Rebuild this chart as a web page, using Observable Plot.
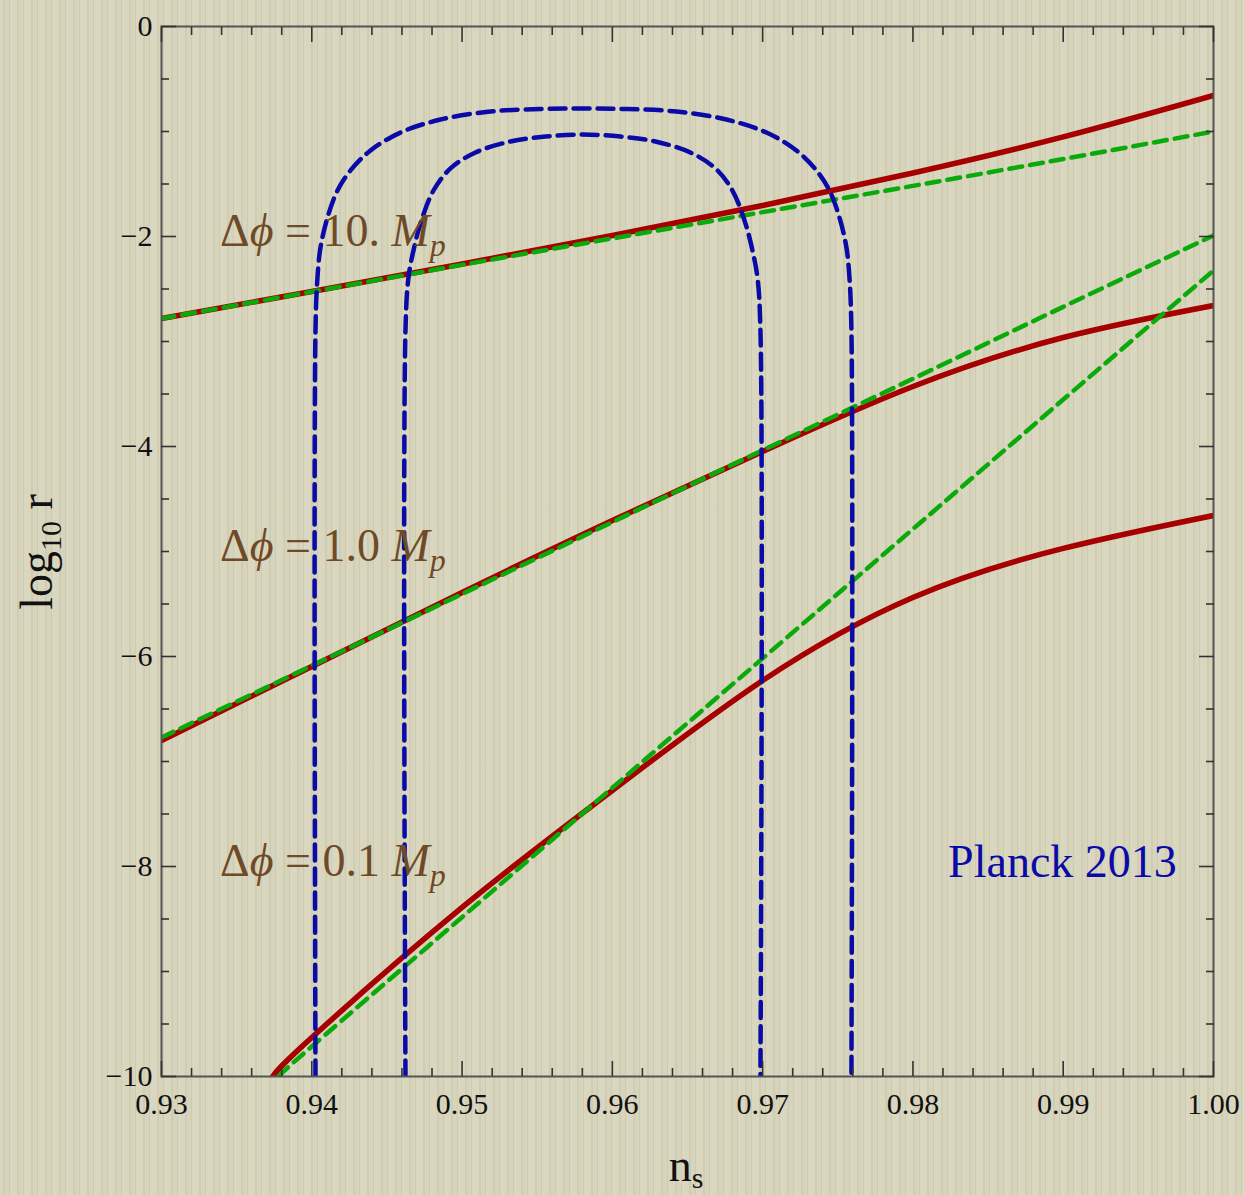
<!DOCTYPE html>
<html>
<head>
<meta charset="utf-8">
<script src="https://cdn.jsdelivr.net/npm/d3@7"></script>
<script src="https://cdn.jsdelivr.net/npm/@observablehq/plot@0.6"></script>
<style>
  html, body { margin: 0; padding: 0; overflow: hidden; }
  body {
    width: 1245px; height: 1195px;
    background-color: #d5d2b9;
    background-image: repeating-linear-gradient(90deg,
      rgba(255,255,240,0.10) 0px, rgba(255,255,240,0.10) 3px,
      rgba(120,115,80,0.06) 3px, rgba(120,115,80,0.06) 5px,
      rgba(255,255,240,0.05) 5px, rgba(255,255,240,0.05) 9px,
      rgba(120,115,80,0.08) 9px, rgba(120,115,80,0.08) 10px,
      rgba(255,255,240,0.12) 10px, rgba(255,255,240,0.12) 14px);
  }
  #chart svg { display: block; }
</style>
</head>
<body>
<div id="chart"></div>
<script>
// Spectral index grid shared by the model curves
const nsGrid = [0.93, 0.94, 0.95, 0.96, 0.97, 0.98, 0.99, 1.00];

// Δφ = 10 Mp : exact (red) and approximate (green) predictions, log10 r
const red10   = [-2.781, -2.524, -2.262, -1.990, -1.705, -1.395, -1.052, -0.657];
const green10 = [-2.781, -2.526, -2.270, -2.018, -1.768, -1.518, -1.262, -1.000];

// Δφ = 1.0 Mp
const red1   = [-6.800, -6.095, -5.390, -4.705, -4.048, -3.429, -2.962, -2.657];
const green1 = [-6.771, -6.088, -5.405, -4.720, -4.036, -3.355, -2.670, -1.990];

// Δφ = 0.1 Mp (enters the plot at the bottom edge)
const red01Ns   = [0.9374, 0.94, 0.95, 0.96, 0.97, 0.98, 0.99, 1.00];
const red01     = [-10, -9.629, -8.390, -7.276, -6.229, -5.438, -4.971, -4.657];
const green01Ns = [0.9378, 0.94, 0.95, 0.96, 0.97, 0.98, 0.99, 1.00];
const green01   = [-10, -9.714, -8.483, -7.250, -6.018, -4.786, -3.553, -2.324];

// Planck 2013 contours (outer and inner)
const outerNs  = [0.940246, 0.940246, 0.940379, 0.940579, 0.941045, 0.941710, 0.942575, 0.943906, 0.945902,
                  0.948563, 0.951890, 0.955216, 0.958077, 0.960938, 0.964265, 0.967592, 0.970253, 0.972249,
                  0.973580, 0.974445, 0.975110, 0.975576, 0.975775, 0.975908, 0.975908];
const outerLog = [-10, -2.895, -2.390, -2.105, -1.819, -1.562, -1.371, -1.181, -1.010,
                  -0.886, -0.810, -0.786, -0.781, -0.786, -0.810, -0.886, -1.010, -1.181,
                  -1.371, -1.562, -1.819, -2.105, -2.390, -2.895, -10];
const innerNs  = [0.946234, 0.946234, 0.946434, 0.946766, 0.947232, 0.948097, 0.949228, 0.950892, 0.953221,
                  0.955549, 0.958044, 0.960539, 0.962868, 0.965196, 0.966860, 0.967991, 0.968856, 0.969322,
                  0.969654, 0.969854, 0.969854];
const innerLog = [-10, -2.895, -2.390, -2.133, -1.876, -1.562, -1.352, -1.200, -1.095,
                  -1.048, -1.029, -1.048, -1.095, -1.200, -1.352, -1.562, -1.876, -2.133,
                  -2.390, -2.895, -10];

// Curve annotations
const phiValues = ["10.", "1.0", "0.1"];
const phiLabelNs = [0.9339, 0.9339, 0.9339];
const phiLabelLog = [-1.95, -4.95, -7.95];
const planckLabel = {ns: 0.98995, log: -7.96, text: "Planck 2013"};

// Axis ticks
const xMajor = [0.93, 0.94, 0.95, 0.96, 0.97, 0.98, 0.99, 1.00];
const xTickLabels = ["0.93", "0.94", "0.95", "0.96", "0.97", "0.98", "0.99", "1.00"];
const yMajor = [0, -2, -4, -6, -8, -10];
const yTickLabels = ["0", "\u22122", "\u22124", "\u22126", "\u22128", "\u221210"];
const xMinor = d3.range(0, 36).map(i => 0.93 + i * 0.002).filter(v => Math.abs(Math.round(v * 100) - v * 100) > 1e-6);
const yMinor = d3.range(0, 21).map(i => -i * 0.5).filter(v => Math.abs(v % 2) > 1e-6);

const rows = (xs, ys) => xs.map((x, i) => ({ns: x, log: ys[i]}));

const RED = "#a60000", GREEN = "#0aaa0a", BLUE = "#0a0aa6", BROWN = "#6f4a28";
const SERIF = "'Liberation Serif', 'Times New Roman', serif";

const redStyle   = {x: "ns", y: "log", stroke: RED, strokeWidth: 5.5, curve: "natural", clip: true};
const greenStyle = {x: "ns", y: "log", stroke: GREEN, strokeWidth: 4.5, strokeDasharray: "13,8", curve: "natural", clip: true};
const blueStyle  = {x: "ns", y: "log", stroke: BLUE, strokeWidth: 4.5, strokeDasharray: "16,8", curve: "catmull-rom", clip: true};

const tickColor = "#333";
const tickAxis = (fn, data, anchor, size) =>
  fn(data, {anchor, tickSize: size, fill: "none", stroke: tickColor, strokeWidth: 1.6, label: null});

const chart = Plot.plot({
  width: 1245,
  height: 1195,
  marginLeft: 161,
  marginRight: 32,
  marginTop: 26,
  marginBottom: 119,
  x: {domain: [0.93, 1.00]},
  y: {domain: [-10, 0]},
  style: {background: "transparent", fontFamily: SERIF},
  marks: [
    Plot.line(rows(nsGrid, red10), redStyle),
    Plot.line(rows(nsGrid, red1), redStyle),
    Plot.line(rows(red01Ns, red01), redStyle),
    Plot.line(rows(nsGrid, green10), greenStyle),
    Plot.line(rows(nsGrid, green1), greenStyle),
    Plot.line(rows(green01Ns, green01), greenStyle),
    Plot.line(rows(outerNs, outerLog), blueStyle),
    Plot.line(rows(innerNs, innerLog), blueStyle),
    Plot.text(phiValues.map((v, i) => ({ns: phiLabelNs[i], log: phiLabelLog[i], v})), {
      x: "ns", y: "log", text: d => `Δϕ = ${d.v} M`, textAnchor: "start",
      fill: BROWN, fontSize: 46, fontFamily: SERIF
    }),
    Plot.text([planckLabel], {
      x: "ns", y: "log", text: "text", fill: BLUE, fontSize: 46, fontFamily: SERIF
    }),
    Plot.frame({stroke: "#555", strokeWidth: 2}),
    // inward ticks on all four sides
    tickAxis(Plot.axisX, xMajor, "bottom", -15),
    tickAxis(Plot.axisX, xMinor, "bottom", -8),
    tickAxis(Plot.axisX, xMajor, "top", -15),
    tickAxis(Plot.axisX, xMinor, "top", -8),
    tickAxis(Plot.axisY, yMajor, "left", -15),
    tickAxis(Plot.axisY, yMinor, "left", -8),
    tickAxis(Plot.axisY, yMajor, "right", -15),
    tickAxis(Plot.axisY, yMinor, "right", -8),
    // tick labels
    Plot.text(xMajor, {
      x: d => d, text: (d, i) => xTickLabels[i], frameAnchor: "bottom", lineAnchor: "top", dy: 16,
      fill: "#111", fontSize: 30, fontFamily: SERIF
    }),
    Plot.text(yMajor, {
      y: d => d, text: (d, i) => yTickLabels[i], frameAnchor: "left", textAnchor: "end", dx: -9,
      fill: "#111", fontSize: 30, fontFamily: SERIF
    })
  ]
});

const svg = d3.select(chart);

// Rebuild the Δφ labels with italic symbols and the subscripted p
let k = 0;
svg.selectAll("text")
  .filter(function() { return this.textContent.startsWith("Δϕ"); })
  .each(function() {
    const t = d3.select(this);
    const v = phiValues[k++];
    t.text(null);
    t.append("tspan").text("Δ");
    t.append("tspan").style("font-style", "italic").text("ϕ");
    t.append("tspan").text(` = ${v} `);
    t.append("tspan").style("font-style", "italic").text("M");
    t.append("tspan").style("font-style", "italic").style("font-size", "32px").attr("dy", "0.3em").text("p");
  });

// Axis titles
const xTitle = svg.append("text")
  .attr("x", 686).attr("y", 1181)
  .attr("text-anchor", "middle")
  .style("font-family", SERIF).style("font-size", "46px").attr("fill", "#111");
xTitle.append("tspan").text("n");
xTitle.append("tspan").style("font-size", "30px").attr("dy", 7).text("s");

const yTitle = svg.append("text")
  .attr("transform", "translate(52,552) rotate(-90)")
  .attr("text-anchor", "middle")
  .style("font-family", SERIF).style("font-size", "46px").attr("fill", "#111");
yTitle.append("tspan").text("log");
yTitle.append("tspan").style("font-size", "30px").attr("dy", 9).text("10");
yTitle.append("tspan").attr("dy", -9).text(" r");

document.getElementById("chart").appendChild(chart);
</script>
</body>
</html>
